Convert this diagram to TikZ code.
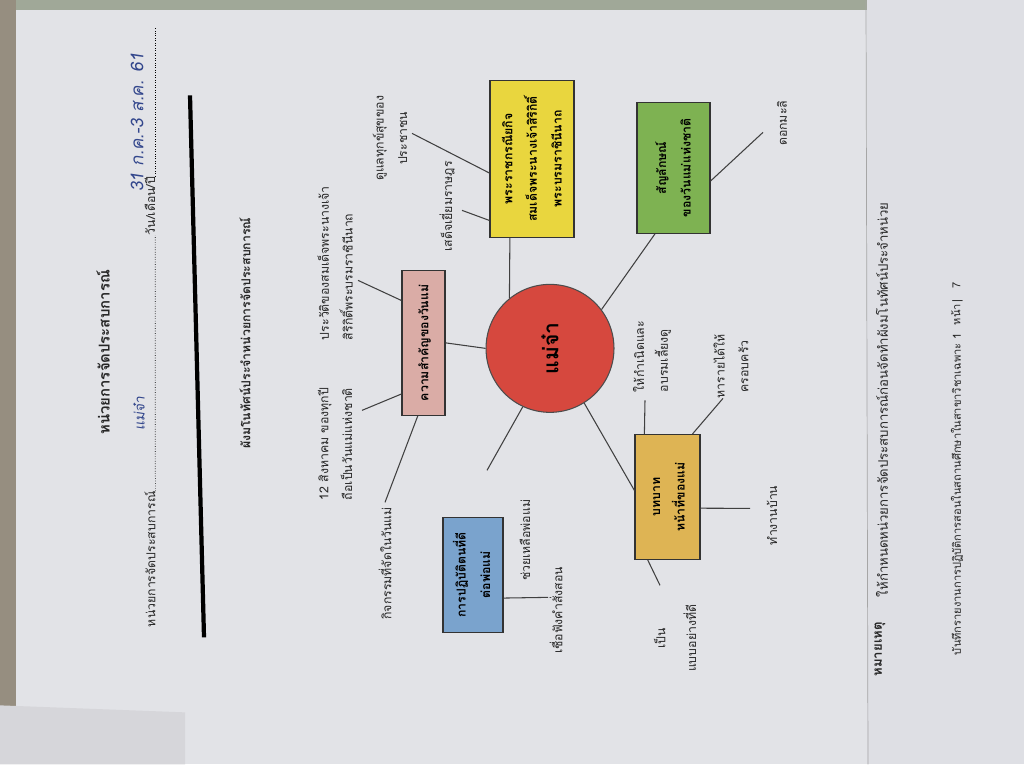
\documentclass[tikz,border=0pt]{standalone}
\usepackage{fontspec}
\setmainfont[Script=Thai]{Loma}
\newfontfamily\hand[Script=Thai,FakeSlant=0.15]{Loma}
\usetikzlibrary{calc}
\definecolor{paper}{RGB}{226,227,231}
\definecolor{leaf}{RGB}{222,223,228}
\definecolor{granite}{RGB}{150,142,128}
\definecolor{topstrip}{RGB}{160,168,152}
\definecolor{sheet}{RGB}{214,214,218}
\definecolor{royalfill}{RGB}{233,214,62}
\definecolor{symbolfill}{RGB}{126,178,82}
\definecolor{meaningfill}{RGB}{218,172,166}
\definecolor{conductfill}{RGB}{122,163,205}
\definecolor{rolefill}{RGB}{222,180,84}
\definecolor{momred}{RGB}{214,72,62}
\definecolor{inkblue}{RGB}{50,70,140}
\newcommand{\rtext}[1]{\rotatebox{90}{\begin{tabular}{@{}c@{}}#1\end{tabular}}}

\begin{document}
\begin{tikzpicture}[x=0.02cm,y=-0.02cm]
\tikzstyle{box} = [rectangle,draw=black!80,line width=0.6pt,inner sep=0pt,font=\bfseries\fontsize{7}{14}\selectfont]
\tikzstyle{lbl} = [rotate=90,align=center,inner sep=0pt,font=\fontsize{7}{13.5}\selectfont,text=black!85]
\tikzstyle{ink} = [rotate=90,inner sep=0pt,text=inkblue,font=\hand\fontsize{8}{10}\selectfont]
\tikzstyle{link} = [draw=black!75,line width=0.6pt]

\fill[paper] (0,0) rectangle (1024,764);
\fill[granite] (0,0) rectangle (16,764);
\fill[topstrip] (16,0) rectangle (880,10);
\fill[leaf] (867,0) rectangle (1024,764);
\draw[black!35] (866,0) -- (868,764);
\fill[sheet] (0,705) -- (185,712) -- (185,764) -- (0,764) -- cycle;
\useasboundingbox (0,0) rectangle (1024,764);

\node[lbl,font=\bfseries\fontsize{8.5}{11}\selectfont](title) at (103,352) {หน่วยการจัดประสบการณ์};
\node[lbl,anchor=west](unitname) at (150,627) {หน่วยการจัดประสบการณ์};
\node[lbl,anchor=west](datelbl) at (150,235) {วัน/เดือน/ปี};
\draw[densely dotted] (unitname.base east) -- (datelbl.base west);
\draw[densely dotted] (datelbl.base east) -- ++(0,-150);
\node[ink](handunit) at (139,413) {แม่จ๋า};
\node[ink,font=\hand\fontsize{10}{12}\selectfont](handdate) at (137,122) {31 ก.ค.-3 ส.ค. 61};
\draw[line width=2.4pt] (190,95) -- (204,637);
\node[lbl,font=\bfseries\fontsize{7}{9}\selectfont](maptitle) at (245,333) {ผังมโนทัศน์ประจำหน่วยการจัดประสบการณ์};

\node[circle,draw=black!70,line width=0.6pt,fill=momred,minimum size=2.56cm,inner sep=0pt](mom) at (550,348) {\rotatebox{90}{\bfseries\fontsize{12}{15}\selectfont แม่จ๋า}};
\node[box,fill=royalfill,minimum width=1.68cm,minimum height=3.14cm](royal) at (532,158.5) {\rtext{พระราชกรณียกิจ\\สมเด็จพระนางเจ้าสิริกิติ์\\พระบรมราชินีนาถ}};
\node[box,fill=symbolfill,minimum width=1.46cm,minimum height=2.62cm](symbol) at (673.5,167.5) {\rtext{สัญลักษณ์\\ของวันแม่แห่งชาติ}};
\node[box,fill=meaningfill,minimum width=0.86cm,minimum height=2.9cm](meaning) at (423.5,342.5) {\rtext{ความสำคัญของวันแม่}};
\node[box,fill=conductfill,minimum width=1.2cm,minimum height=2.3cm](conduct) at (473,574.5) {\rtext{การปฏิบัติตนที่ดี\\ต่อพ่อแม่}};
\node[box,fill=rolefill,minimum width=1.3cm,minimum height=2.5cm](role) at (667.5,496.5) {\rtext{บทบาท\\หน้าที่ของแม่}};

\node[lbl](care) at (390,138) {ดูแลทุกข์สุขของ\\ประชาชน};
\node[lbl](visit) at (447,206) {เสด็จเยี่ยมราษฎร};
\node[lbl](jasmine) at (782,123) {ดอกมะลิ};
\node[lbl,align=left,anchor=west](history) at (335,340) {ประวัติของสมเด็จพระนางเจ้า\\สิริกิติ์พระบรมราชินีนาถ};
\node[lbl,align=left,anchor=west](aug) at (335,500) {12 สิงหาคม ของทุกปี\\ถือเป็นวันแม่แห่งชาติ};
\node[lbl](events) at (385,563) {กิจกรรมที่จัดในวันแม่};
\node[lbl](help) at (525,540) {ช่วยเหลือพ่อแม่};
\node[lbl](obey) at (556,610) {เชื่อฟังคำสั่งสอน};
\node[lbl,align=left,anchor=west](raise) at (652,392) {ให้กำเนิดและ\\อบรมเลี้ยงดู};
\node[lbl](earn) at (731,366) {หารายได้ให้\\ครอบครัว};
\node[lbl](chores) at (772,515) {ทำงานบ้าน};
\node[lbl](model) at (675,638) {เป็น\\[4pt]แบบอย่างที่ดี};

\coordinate (careend) at (412,133);
\coordinate (visitend) at (462,210);
\coordinate (jasmineend) at (763,132);
\coordinate (historyend) at (358,280);
\coordinate (augend) at (362,410);
\coordinate (eventsend) at (385,502);
\coordinate (momend) at (487,470);
\coordinate (obeyend) at (548,597);
\coordinate (raiseend) at (645,400);
\coordinate (earnend) at (723,398);
\coordinate (choresend) at (750,508);
\coordinate (modelend) at (660,585);

\draw[link] ($(royal.south west)!.24!(royal.south east)$) -- (mom.129);
\draw[link] ($(royal.north west)!.59!(royal.south west)$) -- (careend);
\draw[link] ($(royal.north west)!.89!(royal.south west)$) -- (visitend);
\draw[link] ($(symbol.north east)!.6!(symbol.south east)$) -- (jasmineend);
\draw[link] ($(symbol.south west)!.25!(symbol.south east)$) -- (mom.37);
\draw[link] (meaning.east) -- (mom.west);
\draw[link] ($(meaning.north west)!.21!(meaning.south west)$) -- (historyend);
\draw[link] ($(meaning.north west)!.85!(meaning.south west)$) -- (augend);
\draw[link] ($(meaning.south west)!.37!(meaning.south east)$) -- (eventsend);
\draw[link] (mom.245) -- (momend);
\draw[link] ($(conduct.north east)!.7!(conduct.south east)$) -- (obeyend);
\draw[link] (mom.302) -- ($(role.north west)!.45!(role.south west)$);
\draw[link] ($(role.north west)!.15!(role.north east)$) -- (raiseend);
\draw[link] ($(role.north west)!.88!(role.north east)$) -- (earnend);
\draw[link] ($(role.north east)!.59!(role.south east)$) -- (choresend);
\draw[link] ($(role.south west)!.2!(role.south east)$) -- (modelend);

\node[lbl,font=\bfseries\fontsize{7.5}{10}\selectfont](note) at (880,649) {หมายเหตุ};
\node[lbl,anchor=west,font=\fontsize{7.5}{10}\selectfont](notetext) at (882,597) {ให้กำหนดหน่วยการจัดประสบการณ์ก่อนจัดทำผังมโนทัศน์ประจำหน่วย};
\node[lbl,anchor=west,font=\fontsize{6.3}{9}\selectfont](footer) at (957,655) {บันทึกรายงานการปฏิบัติการสอนในสถานศึกษาในสาขาวิชาเฉพาะ 1};
\node[lbl,anchor=west,font=\fontsize{6.3}{9}\selectfont](page) at (957,325) {หน้า\,|\quad 7};
\end{tikzpicture}
\end{document}
